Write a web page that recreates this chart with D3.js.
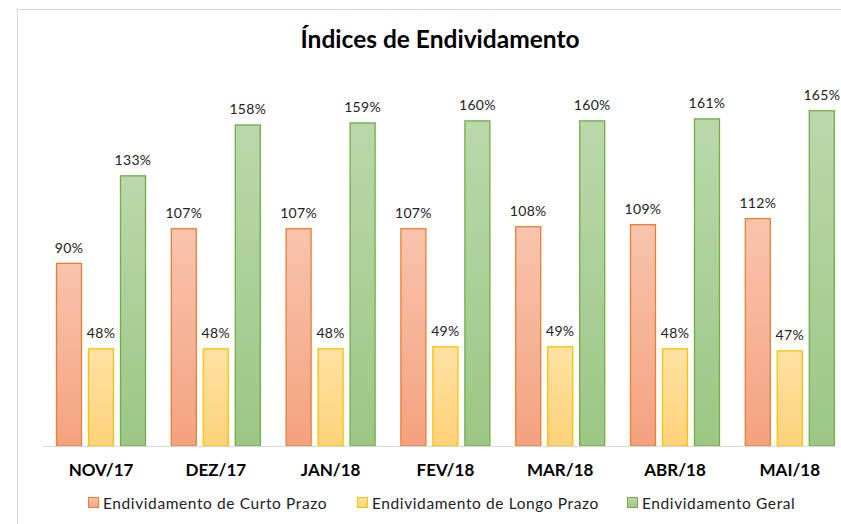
<!DOCTYPE html>
<html>
<head>
<meta charset="utf-8">
<script src="https://cdn.jsdelivr.net/npm/d3@7"></script>
<style>
  body { margin: 0; background: #fff; }
  svg { display: block; font-family: Lato, "Open Sans", sans-serif; }
</style>
</head>
<body>
<svg id="chart" width="841" height="524"></svg>
<script>
const months = ["NOV/17", "DEZ/17", "JAN/18", "FEV/18", "MAR/18", "ABR/18", "MAI/18"];
const seriesNames = ["Endividamento de Curto Prazo", "Endividamento de Longo Prazo", "Endividamento Geral"];
const curtoPrazo = [90, 107, 107, 107, 108, 109, 112];
const longoPrazo = [48, 48, 48, 49, 49, 48, 47];
const geral = [133, 158, 159, 160, 160, 161, 165];

const seriesValues = [curtoPrazo, longoPrazo, geral];
const colors = [
    {top: "#f8c4ad", bottom: "#f4a27f", stroke: "#ed7d31"},
    {top: "#ffe2a3", bottom: "#ffd27a", stroke: "#ffc000"},
    {top: "#bad8ab", bottom: "#9cc784", stroke: "#70ad47"}
];

const svg = d3.select("#chart");

// chart frame
svg.append("rect")
    .attr("x", 17.5).attr("y", 9.5)
    .attr("width", 840).attr("height", 530)
    .attr("fill", "#fff")
    .attr("stroke", "#d9d9d9");

const defs = svg.append("defs");
colors.forEach((c, i) => {
    const g = defs.append("linearGradient")
        .attr("id", `grad${i}`)
        .attr("x1", "0").attr("x2", "0").attr("y1", "0").attr("y2", "1");
    g.append("stop").attr("offset", "0%").attr("stop-color", c.top);
    g.append("stop").attr("offset", "100%").attr("stop-color", c.bottom);
});

const x0 = d3.scaleBand()
    .domain(months)
    .range([43.6, 847.2]);

const x1 = d3.scaleBand()
    .domain([0, 1, 2])
    .range([9.4, 105.4]);

const barWidth = 26;

const y = d3.scaleLinear()
    .domain([0, 180])
    .range([446, 79.7]);

svg.append("text")
    .attr("x", 440).attr("y", 48)
    .attr("text-anchor", "middle")
    .style("font-size", "24.5px")
    .style("font-weight", "bold")
    .attr("fill", "#000")
    .text("Índices de Endividamento");

const groups = svg.selectAll("g.month")
    .data(months)
    .join("g")
    .attr("class", "month")
    .attr("transform", d => `translate(${x0(d)},0)`);

seriesValues.forEach((vals, s) => {
    groups.append("rect")
        .attr("x", (d, i) => x1(s) + (x1.bandwidth() - barWidth) / 2 + 0.5)
        .attr("y", (d, i) => y(vals[i]) + 0.5)
        .attr("width", barWidth - 1)
        .attr("height", (d, i) => y(0) - y(vals[i]) - 0.5)
        .attr("fill", `url(#grad${s})`)
        .attr("stroke", colors[s].stroke)
        .attr("stroke-width", 1.3);

    groups.append("text")
        .attr("x", (d, i) => x1(s) + x1.bandwidth() / 2)
        .attr("y", (d, i) => y(vals[i]) - 10)
        .attr("text-anchor", "middle")
        .style("font-size", "14px")
        .style("letter-spacing", "0.3px")
        .attr("fill", "#222")
        .text((d, i) => vals[i] + "%");
});

// baseline
svg.append("line")
    .attr("x1", 43).attr("x2", 836)
    .attr("y1", y(0) + 0.5).attr("y2", y(0) + 0.5)
    .attr("stroke", "#d9d9d9");

const xAxis = d3.axisBottom(x0).tickSize(0).tickPadding(0);
const axisG = svg.append("g")
    .attr("transform", `translate(0, ${y(0)})`)
    .call(xAxis);
axisG.select(".domain").remove();
axisG.selectAll("text")
    .attr("dy", "30px")
    .style("font-size", "17px")
    .style("font-weight", "bold")
    .style("font-family", "Lato, 'Open Sans', sans-serif")
    .attr("fill", "#000");

// legend
const legendX = [88, 357, 627];
const legend = svg.append("g").attr("transform", "translate(0, 509)");
seriesNames.forEach((name, s) => {
    const item = legend.append("g").attr("transform", `translate(${legendX[s]}, 0)`);
    item.append("rect")
        .attr("x", 0.5).attr("y", -11.5)
        .attr("width", 10).attr("height", 10)
        .attr("fill", `url(#grad${s})`)
        .attr("stroke", colors[s].stroke);
    item.append("text")
        .attr("x", 15).attr("y", 0)
        .style("font-size", "15.5px")
        .style("letter-spacing", "0.6px")
        .attr("fill", "#222")
        .text(name);
});
</script>
</body>
</html>
